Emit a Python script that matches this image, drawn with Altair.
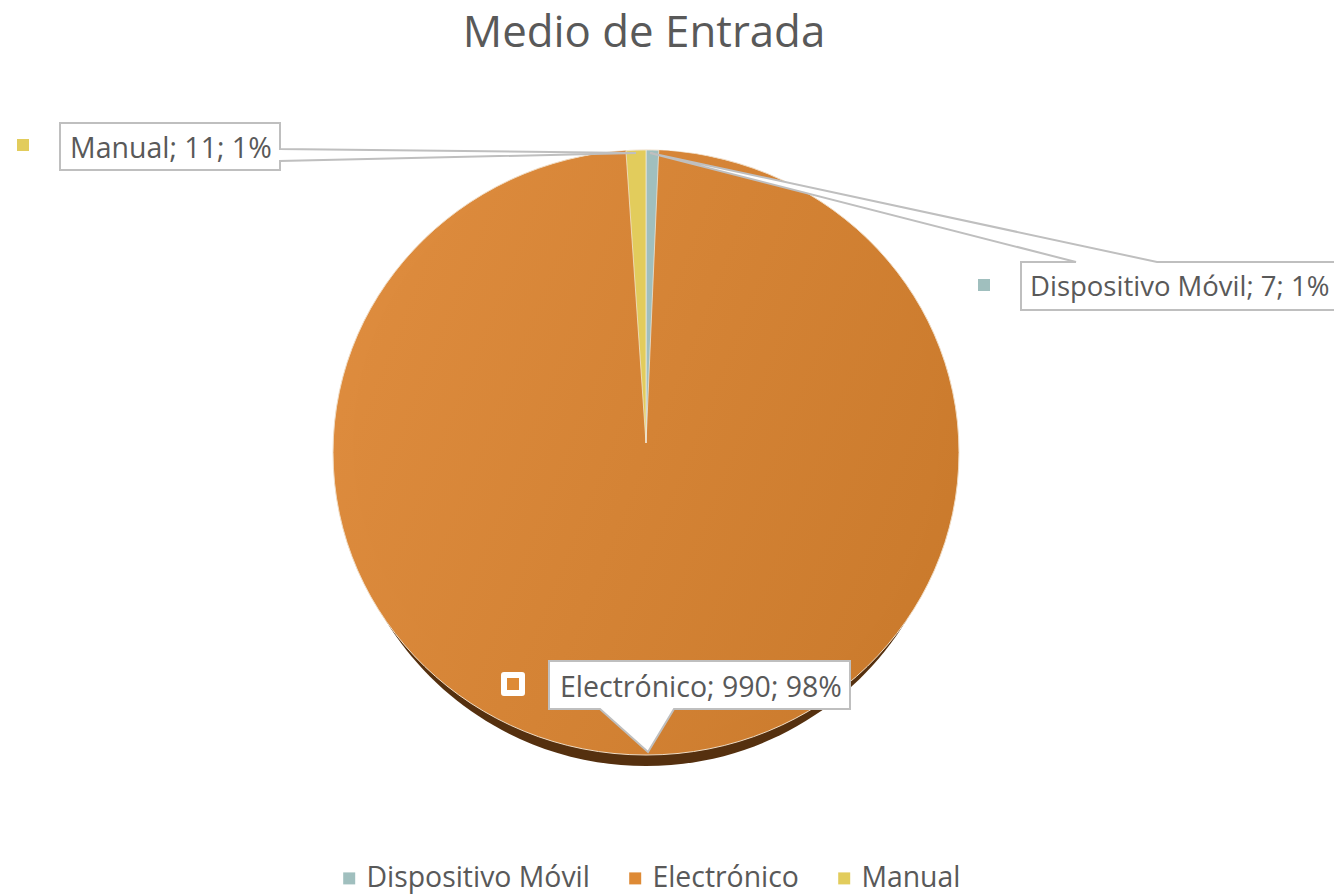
import altair as alt
import pandas as pd

categories = ["Dispositivo Móvil", "Electrónico", "Manual"]
values = [7, 990, 11]
percents = [1, 98, 1]
colors = ["#A0BFBE", "#DE8A35", "#E2CC5C"]
title_text = "Medio de Entrada"

FONT = "Open Sans"
TEXT = "#595959"
LINE = "#BFBFBF"
total = sum(values)

df = pd.DataFrame({
    "cat": categories,
    "value": values,
    "label": [f"{c}; {v}; {p}%" for c, v, p in zip(categories, values, percents)],
})


def px(v):
    """Reference picture pixel to chart pixel (page margin is 8px)."""
    return alt.value(v - 8)


def grad(a, b):
    return alt.Gradient(
        gradient="linear", x1=0, x2=1, y1=0.3, y2=0.7,
        stops=[alt.GradientStop(offset=0, color=a), alt.GradientStop(offset=1, color=b)],
    )


blank = alt.Chart(alt.Data(values=[{"a": 1}]))


def ellipse(cx, cy, rx, ry, **kw):
    path = f"M-1,0A1,{ry / rx:.4f},0,1,1,1,0A1,{ry / rx:.4f},0,1,1,-1,0Z"
    return blank.mark_point(shape=path, size=(2 * rx) ** 2, filled=True, opacity=1, **kw).encode(
        x=px(cx), y=px(cy)
    )


def callout(path):
    return blank.mark_point(
        shape=path, size=4, filled=True, opacity=1, fill="white", stroke=LINE, strokeWidth=2
    ).encode(x=alt.value(-8), y=alt.value(-8))


def label(cat, x, y, size=28.5):
    return (
        alt.Chart(df)
        .transform_filter(alt.datum.cat == cat)
        .mark_text(font=FONT, fontSize=size, color=TEXT, align="left", baseline="middle")
        .encode(x=px(x), y=px(y), text="label:N")
    )


def marker(color, x, y, size=144, **kw):
    return blank.mark_square(size=size, opacity=1, color=color, **kw).encode(x=px(x), y=px(y))


theta_scale = alt.Scale(domain=[0, total])
stacked = alt.Chart(df).transform_stack(
    stack="value", groupby=[], as_=["t0", "t1"]
)
CX, CY, R = 646, 443, 293

shadow = ellipse(646, 462, 305, 304, fill="#55300F")
body = ellipse(646, 452.5, 313, 302.5, fill=grad("#DE8C3E", "#CA7A2C"), stroke="#F0DCC4", strokeWidth=1)

main_slice = (
    stacked.transform_filter(alt.datum.cat == "Electrónico")
    .mark_arc(radius=R, fill=grad("#DD8B3D", "#CB7B2D"))
    .encode(
        theta=alt.Theta("t0:Q", scale=theta_scale),
        theta2="t1:Q",
        x=px(CX), y=px(CY),
    )
)
small_slices = (
    stacked.transform_filter(alt.datum.cat != "Electrónico")
    .mark_arc(radius=R, stroke="#F3EDE0", strokeWidth=1, strokeOpacity=0.7)
    .encode(
        theta=alt.Theta("t0:Q", scale=theta_scale),
        theta2="t1:Q",
        x=px(CX), y=px(CY),
        color=alt.Color(
            "cat:N",
            scale=alt.Scale(domain=categories, range=colors),
            legend=alt.Legend(
                orient="none", legendX=327, legendY=856, direction="horizontal", title=None,
                columns=3, symbolType="square", symbolSize=144, symbolStrokeWidth=0,
                labelFont=FONT, labelFontSize=28.4, labelColor=TEXT, labelOffset=3,
                columnPadding=31, labelLimit=400,
            ),
        ),
    )
)

title_mark = blank.transform_calculate(t=f"'{title_text}'").mark_text(
    font=FONT, fontSize=43.8, color=TEXT, align="center", baseline="alphabetic"
).encode(x=px(644), y=px(47), text="t:N")

chart = alt.layer(
    shadow,
    body,
    main_slice,
    small_slices,
    callout("M60,123H280V149L636,153L280,161V170H60Z"),
    callout("M1021,262H1076L650,153L1157,262H1341V310H1021Z"),
    callout("M549,661H850V709H674L648,752L600,709H549Z"),
    marker(colors[2], 23, 145),
    marker(colors[0], 984, 285),
    marker(colors[1], 513, 684, size=324, stroke="white", strokeWidth=6, strokeJoin="round"),
    label("Manual", 70, 149),
    label("Dispositivo Móvil", 1030, 288, size=27.5),
    label("Electrónico", 560, 688),
    title_mark,
).properties(
    width=1326,
    height=887,
    padding=0,
    autosize=alt.AutoSizeParams(type="none"),
).configure_view(stroke=None)

chart.save("out.html", embed_options={"renderer": "svg", "actions": False})
